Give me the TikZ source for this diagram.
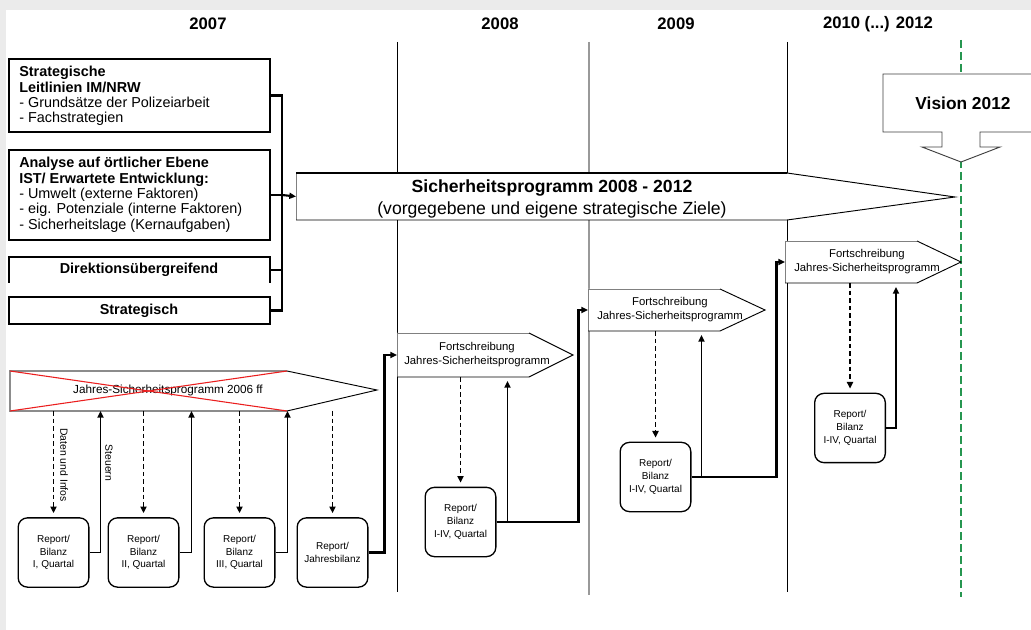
\documentclass[tikz,border=0pt]{standalone}
\usepackage{fontspec}
\setmainfont{Liberation Sans}
\usetikzlibrary{arrows.meta,fit,calc}
\definecolor{vgreen}{RGB}{38,150,80}
\definecolor{xred}{RGB}{235,30,30}
\begin{document}
\begin{tikzpicture}[x=0.75pt,y=-0.75pt,
  region/.style={inner sep=0pt,outer sep=0pt},
  box/.style={region,draw=black,line width=0.8pt},
  rep/.style={draw=black,line width=1pt,rounded corners=7pt,minimum width=53pt,minimum height=52pt,inner sep=0pt,align=center,font=\fontsize{7.5}{9.6}\selectfont},
  conn/.style={line width=1.6pt},
  tip/.style={-{Triangle[length=5pt,width=4.5pt]}},
  uparr/.style={line width=1.3pt,tip},
  downarr/.style={line width=1.4pt,dash pattern=on 3.5pt off 2.2pt,tip,shorten >=3pt},
  yeartext/.style={font=\fontsize{12.5}{14}\selectfont\bfseries},
  ltext/.style={anchor=north west,inner sep=0pt,align=left,font=\fontsize{10.8}{11.5}\selectfont},
  ftext/.style={align=center,font=\fontsize{8.5}{10.5}\selectfont},
  shapeline/.style={line width=0.7pt},
]
\useasboundingbox (0,0) rectangle (1031,630);
\fill[white] (0,0) rectangle (1031,630);
\fill[black!8] (0,0) rectangle (1031,10);
\fill[black!8] (0,10) rectangle (6,630);

% year labels
\node[yeartext] (y2007) at (208,24) {2007};
\node[yeartext] (y2008) at (500,24) {2008};
\node[yeartext] (y2009) at (676,24) {2009};
\node[yeartext] (y2010) at (878,24) {2010 (...) 2012};

% year separators
\draw[line width=0.6pt] (397,42) -- (397,592);
\draw[black!40,line width=1.4pt] (589,42) -- (589,595);
\draw[line width=0.6pt] (787,42) -- (787,592);
\draw[vgreen,line width=1.5pt,dash pattern=on 6pt off 3pt] (961,40) -- (961,597);

% left boxes
\node[box,fit={(9,59)(270,132)}] (b1) {};
\node[ltext] (b1t) at (19,66) {\textbf{Strategische}\\\textbf{Leitlinien IM/NRW}\\- Grundsätze der Polizeiarbeit\\- Fachstrategien};
\node[box,fit={(9,150)(270,240)}] (b2) {};
\node[ltext] (b2t) at (19,157) {\textbf{Analyse auf örtlicher Ebene}\\\textbf{IST/ Erwartete Entwicklung:}\\- Umwelt (externe Faktoren)\\- eig. Potenziale (interne Faktoren)\\- Sicherheitslage (Kernaufgaben)};
\node[region,fit={(9,257)(270,283)}] (b3) {};
\draw[line width=0.8pt] (b3.south west) -- (b3.north west) -- (b3.north east) -- (b3.south east);
\node[font=\fontsize{10.8}{12}\selectfont\bfseries] (b3t) at (139,270) {Direktionsübergreifend};
\node[box,fit={(9,297)(270,324)}] (b4) {};
\node[font=\fontsize{10.8}{12}\selectfont\bfseries] (b4t) at (139,311) {Strategisch};

% big programme arrow
\node[region,fit={(296,173)(787,220)}] (sp) {};
\coordinate (sptip) at (955,197);
\fill[white] (sp.north west) -- (sp.north east) -- (sptip) -- (sp.south east) -- (sp.south west) -- cycle;
\draw[black!50,line width=0.7pt] (sp.south west) -- (sp.north west);
\draw[line width=1.3pt] (sp.north west) -- (sp.north east);
\draw[shapeline] (sp.north east) -- (sptip) -- (sp.south east) -- (sp.south west);
\node[align=center,font=\fontsize{13.2}{16.5}\selectfont] (spt) at (552,199) {\textbf{Sicherheitsprogramm 2008 - 2012}\\(vorgegebene und eigene strategische Ziele)};

% bracket from the left boxes
\coordinate (bus) at (282,0);
\draw[conn] (b1.east) -- (b1.east -| bus) -- (b4.east -| bus) -- (b4.east);
\draw[conn] (b2.east) -- (b2.east -| bus);
\draw[conn] (b3.east) -- (b3.east -| bus);
\draw[conn,tip] (b2.east -| bus) -- (sp.west);

% Vision 2012
\node[region,fit={(883,74)(1031,132)}] (vis) {};
\coordinate (vistip) at (961,162);
\filldraw[fill=white,draw=black!75,line width=0.7pt] (vis.north east) -- (vis.north west) -- (vis.south west) -- (942,132) -- (942,147) -- (922,147) -- (vistip) -- (1000,147) -- (980,147) -- (980,132) -- (vis.south east);
\node[font=\fontsize{13}{15}\selectfont\bfseries] (vist) at (963,103) {Vision 2012};

% Jahres-Sicherheitsprogramm 2006 ff (crossed out)
\node[region,fit={(10,371)(287,411)}] (j6) {};
\coordinate (j6tip) at (377,390);
\draw[black!45,line width=0.8pt] (j6.north east) -- (j6.north west) -- (j6.south west) -- (j6.south east);
\draw[shapeline] (j6.north east) -- (j6tip) -- (j6.south east);
\node[font=\fontsize{8.8}{10}\selectfont] (j6t) at (168,390) {Jahres-Sicherheitsprogramm 2006 ff};
\draw[xred,line width=0.8pt] (j6.north west) -- (j6.south east);
\draw[xred,line width=0.8pt] (j6.south west) -- (j6.north east);

% Fortschreibung shapes
\node[region,fit={(397,333)(529,377)}] (f1) {};
\coordinate (f1tip) at (573,355);
\fill[white] (f1.north west) -- (f1.north east) -- (f1tip) -- (f1.south east) -- (f1.south west) -- cycle;
\draw[shapeline,black!50] (f1.south west) -- (f1.north west) -- (f1.north east);
\draw[shapeline] (f1.north east) -- (f1tip) -- (f1.south east) -- (f1.south west);
\node[ftext] (f1t) at (477,355) {Fortschreibung\\Jahres-Sicherheitsprogramm};

\node[region,fit={(588,289)(720,331)}] (f2) {};
\coordinate (f2tip) at (765,310);
\fill[white] (f2.north west) -- (f2.north east) -- (f2tip) -- (f2.south east) -- (f2.south west) -- cycle;
\draw[shapeline,black!50] (f2.south west) -- (f2.north west) -- (f2.north east);
\draw[shapeline] (f2.north east) -- (f2tip) -- (f2.south east) -- (f2.south west);
\node[ftext] (f2t) at (670,310) {Fortschreibung\\Jahres-Sicherheitsprogramm};

\node[region,fit={(785,241)(917,283)}] (f3) {};
\coordinate (f3tip) at (961,262);
\fill[white] (f3.north west) -- (f3.north east) -- (f3tip) -- (f3.south east) -- (f3.south west) -- cycle;
\draw[shapeline,black!50] (f3.south west) -- (f3.north west) -- (f3.north east);
\draw[shapeline] (f3.north east) -- (f3tip) -- (f3.south east) -- (f3.south west);
\node[ftext] (f3t) at (867,262) {Fortschreibung\\Jahres-Sicherheitsprogramm};

% report boxes
\node[rep] (r1) at (53.5,552.5) {Report/\\Bilanz\\I, Quartal};
\node[rep] (r2) at (143.5,552.5) {Report/\\Bilanz\\II, Quartal};
\node[rep] (r3) at (239.5,552.5) {Report/\\Bilanz\\III, Quartal};
\node[rep] (r4) at (332.5,552.5) {Report/\\Jahresbilanz};
\node[rep] (r5) at (460.5,522) {Report/\\Bilanz\\I-IV, Quartal};
\node[rep] (r6) at (655.5,477) {Report/\\Bilanz\\I-IV, Quartal};
\node[rep] (r7) at (850,428) {Report/\\Bilanz\\I-IV, Quartal};

% 2007 flows
\draw[downarr] (j6.south -| r1.north) -- (r1.north);
\draw[downarr] (j6.south -| r2.north) -- (r2.north);
\draw[downarr] (j6.south -| r3.north) -- (r3.north);
\draw[downarr] (j6.south -| r4.north) -- (r4.north);
\coordinate (k1) at ($(r1.east)+(11,0)$);
\coordinate (k2) at ($(r2.east)+(12,0)$);
\coordinate (k3) at ($(r3.east)+(12,0)$);
\draw[uparr] (r1.east) -- (k1) -- (k1 |- j6.south);
\draw[uparr] (r2.east) -- (k2) -- (k2 |- j6.south);
\draw[uparr] (r3.east) -- (k3) -- (k3 |- j6.south);
\node[rotate=-90,font=\fontsize{7.8}{9}\selectfont] (lab1) at (64,465) {Daten und Infos};
\node[rotate=-90,font=\fontsize{7.8}{9}\selectfont] (lab2) at (109,463) {Steuern};
\draw[conn,tip] (r4.east) -- ++(16,0) |- (f1.west);

% 2008 flows
\draw[downarr] (f1.south -| r5.north) -- (r5.north);
\coordinate (k5) at ($(r5.east)+(11,0)$);
\draw[uparr,shorten >=3pt] (r5.east) -- (k5) -- (k5 |- f1.south);
\draw[conn,tip] (r5.east) -- ++(82,0) |- (f2.west);

% 2009 flows
\draw[downarr] (f2.south -| r6.north) -- (r6.north);
\coordinate (k6) at ($(r6.east)+(10,0)$);
\draw[uparr,shorten >=3pt] (r6.east) -- (k6) -- (k6 |- f2.south);
\draw[conn,tip] (r6.east) -- ++(85,0) |- (f3.west);

% 2010 flows
\draw[downarr] (f3.south -| r7.north) -- (r7.north);
\coordinate (k7) at ($(r7.east)+(10,0)$);
\draw[uparr,shorten >=3pt] (r7.east) -- (k7) -- (k7 |- f3.south);
\end{tikzpicture}
\end{document}
